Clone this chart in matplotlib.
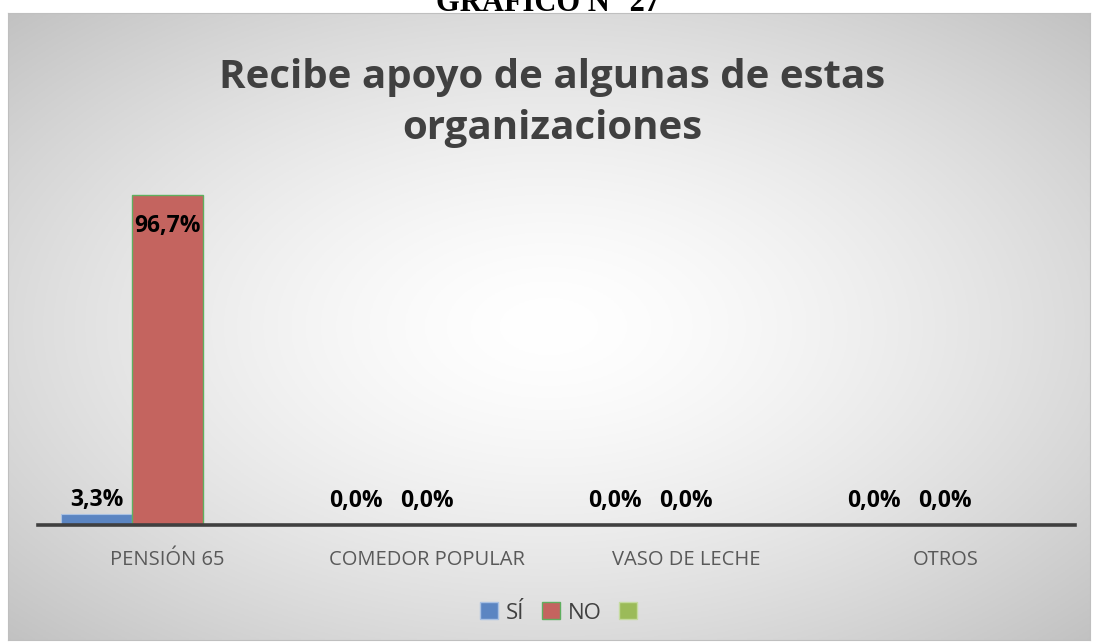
import numpy as np
import matplotlib.pyplot as plt
from matplotlib.patches import Rectangle

# --- DATA ---
categories = ["PENSIÓN 65", "COMEDOR POPULAR", "VASO DE LECHE", "OTROS"]
si_values = [3.3, 0.0, 0.0, 0.0]
no_values = [96.7, 0.0, 0.0, 0.0]
third_values = [0.0, 0.0, 0.0, 0.0]
series_names = ["SÍ", "NO", ""]

FONT = "Open Sans"
W, H = 1095, 644

fig = plt.figure(figsize=(W / 100, H / 100), dpi=100)
fig.patch.set_facecolor("white")

# --- chart frame with radial gradient background ---
fx0, fy0, fx1, fy1 = 8, 13, 1090, 640
bg_ax = fig.add_axes([fx0 / W, 1 - fy1 / H, (fx1 - fx0) / W, (fy1 - fy0) / H], zorder=0)
gx, gy = np.meshgrid(np.linspace(-1, 1, 400), np.linspace(-1, 1, 240))
r = np.sqrt(gx ** 2 + gy ** 2) / np.sqrt(2)
shade = 1.0 - (1.0 - 0.76) * np.clip(r, 0, 1) ** 1.5
bg_ax.imshow(np.dstack([shade, shade, shade]), extent=[0, 1, 0, 1], aspect="auto", origin="lower")
bg_ax.set_xlim(0, 1)
bg_ax.set_ylim(0, 1)
bg_ax.set_xticks([])
bg_ax.set_yticks([])
for s in bg_ax.spines.values():
    s.set_color("#bfbfbf")
    s.set_linewidth(0.8)

# --- main plot axes ---
px0, px1, py_top, py_bot = 38, 1075, 184, 525
ax = fig.add_axes([px0 / W, 1 - py_bot / H, (px1 - px0) / W, (py_bot - py_top) / H], zorder=2)
ax.patch.set_alpha(0)

x = np.arange(len(categories))
bw = 0.274
bars_si = ax.bar(x - bw, si_values, bw, color="#5b85c2", edgecolor="#a9c1e3", linewidth=0.8, zorder=3)
bars_no = ax.bar(x, no_values, bw, color="#c4645f", edgecolor="#5faf5f", linewidth=1.0, zorder=3)
bars_3 = ax.bar(x + bw, third_values, bw, color="#9bbb59", edgecolor="#c5dba0", linewidth=0.8, zorder=3)

ax.set_xlim(-0.5, len(categories) - 0.5)
ax.set_ylim(0, 100)
for side in ["top", "left", "right"]:
    ax.spines[side].set_visible(False)
ax.spines["bottom"].set_color("#404040")
ax.spines["bottom"].set_linewidth(2.6)
ax.spines["bottom"].set_zorder(4)
ax.set_yticks([])
ax.set_xticks(x)
ax.set_xticklabels(categories, fontfamily=FONT, fontsize=14.5, color="#595959")
ax.tick_params(axis="x", length=0, pad=18)

def fmt(v):
    return f"{v:.1f}%".replace(".", ",")

lab_kw = dict(ha="center", va="center", fontfamily=FONT, fontsize=16.5, fontweight="bold",
              color="black", zorder=5)

def label_bar(rect, v):
    xc = rect.get_x() + rect.get_width() / 2
    if v > 50:
        dy = -22
    elif v > 0:
        dy = 10
    else:
        dy = 17
    ax.annotate(fmt(v), (xc, v), xytext=(0, dy), textcoords="offset points", **lab_kw)

for rect, v in zip(bars_si, si_values):
    label_bar(rect, v)
for rect, v in zip(bars_no, no_values):
    label_bar(rect, v)

# --- legend ---
handles = [Rectangle((0, 0), 1, 1, facecolor=c, edgecolor=e, linewidth=1.0)
           for c, e in [("#5b85c2", "#a9c1e3"), ("#c4645f", "#5faf5f"), ("#9bbb59", "#c5dba0")]]
leg = fig.legend(handles, series_names, loc="center", bbox_to_anchor=(0.5 + 15 / W, 1 - 613 / H),
                 ncol=3, frameon=False, handlelength=0.8, handleheight=0.8,
                 handletextpad=0.35, columnspacing=0.8,
                 prop={"family": FONT, "size": 16})
for t in leg.get_texts():
    t.set_color("#404040")

# --- titles ---
fig.text(0.5 + 5 / W, 1 - 103 / H, "Recibe apoyo de algunas de estas\norganizaciones", ha="center", va="center",
         fontfamily=FONT, fontsize=29, fontweight="bold", color="#404040", linespacing=1.42, zorder=3)
fig.text(0.5, 1 - 11 / H, "GRAFICO N° 27", ha="center", va="baseline",
         fontfamily="Liberation Serif", fontsize=22, fontweight="bold", color="black")

fig.savefig("out.png", dpi=100)
